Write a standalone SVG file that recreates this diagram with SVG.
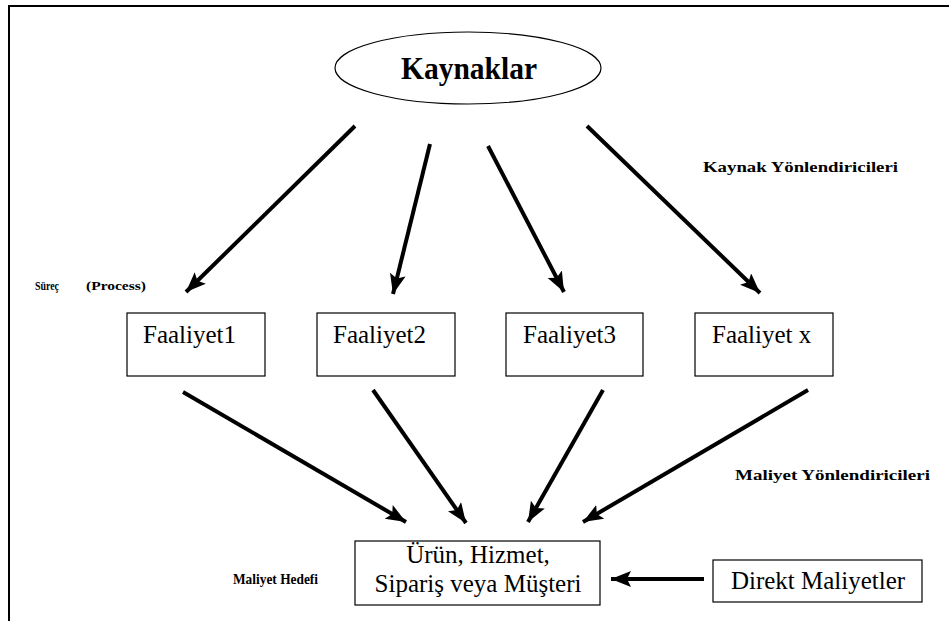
<svg xmlns="http://www.w3.org/2000/svg" width="949" height="621" viewBox="0 0 949 621">
  <style>
    .box { fill: #ffffff; stroke: #000000; stroke-width: 1.2; }
    .frame { fill: none; stroke: #000000; stroke-width: 2; }
    .lbl { font-family: "Liberation Serif", "Times New Roman", serif; font-size: 25px; fill: #000000; }
    .title { font-family: "Liberation Serif", "Times New Roman", serif; font-size: 32px; font-weight: bold; fill: #000000; }
    .note { font-family: "Liberation Serif", "Times New Roman", serif; font-size: 15px; font-weight: bold; fill: #000000; }
    .small { font-family: "Liberation Serif", "Times New Roman", serif; font-size: 12px; font-weight: bold; fill: #000000; }
    .arrow { fill: none; stroke: #000000; stroke-width: 4; marker-end: url(#head); }
  </style>
  <defs>
    <marker id="head" markerUnits="userSpaceOnUse" markerWidth="22" markerHeight="18" refX="20" refY="8" orient="auto">
      <path d="M0,0 L20,8 L0,16 L4,8 Z" fill="#000000"/>
    </marker>
  </defs>

  <rect width="949" height="621" fill="#ffffff"/>
  <!-- page frame: top and left rules -->
  <path class="frame" d="M9,621 V6 H949"/>

  <!-- free labels -->
  <text class="small" x="35" y="290" textLength="24" lengthAdjust="spacingAndGlyphs">Süreç</text>
  <text class="small" x="86" y="290" textLength="60" lengthAdjust="spacingAndGlyphs">(Process)</text>
  <text class="note" x="703" y="172" textLength="195" lengthAdjust="spacingAndGlyphs">Kaynak Yönlendiricileri</text>
  <text class="note" x="735" y="480" textLength="195" lengthAdjust="spacingAndGlyphs">Maliyet Yönlendiricileri</text>
  <text class="note" x="233" y="584" textLength="85" lengthAdjust="spacingAndGlyphs">Maliyet Hedefi</text>

  <g id="connectors">
    <line class="arrow" x1="355" y1="126" x2="186" y2="292"/>
    <line class="arrow" x1="430" y1="144" x2="393" y2="294"/>
    <line class="arrow" x1="488" y1="146" x2="564" y2="292"/>
    <line class="arrow" x1="587" y1="126" x2="760" y2="293"/>
    <line class="arrow" x1="183" y1="392" x2="406" y2="522"/>
    <line class="arrow" x1="373" y1="390" x2="466" y2="523"/>
    <line class="arrow" x1="603" y1="390" x2="528" y2="522"/>
    <line class="arrow" x1="808" y1="390" x2="583" y2="522"/>
    <line class="arrow" x1="704" y1="579" x2="611" y2="579"/>
  </g>

  <g id="kaynaklar">
    <ellipse cx="468" cy="68" rx="133" ry="36" fill="#ffffff" stroke="#000000" stroke-width="1.2"/>
    <text class="title" x="469" y="79" text-anchor="middle" textLength="136" lengthAdjust="spacingAndGlyphs">Kaynaklar</text>
  </g>

  <g id="faaliyet1">
    <rect class="box" x="127" y="313" width="138" height="63"/>
    <text class="lbl" x="143" y="343">Faaliyet1</text>
  </g>
  <g id="faaliyet2">
    <rect class="box" x="317" y="313" width="138" height="63"/>
    <text class="lbl" x="333" y="343">Faaliyet2</text>
  </g>
  <g id="faaliyet3">
    <rect class="box" x="506" y="313" width="137" height="63"/>
    <text class="lbl" x="523" y="343">Faaliyet3</text>
  </g>
  <g id="faaliyetx">
    <rect class="box" x="695" y="313" width="138" height="63"/>
    <text class="lbl" x="712" y="343">Faaliyet x</text>
  </g>

  <g id="maliyet-hedefi">
    <rect class="box" x="355" y="541" width="245" height="64"/>
    <text class="lbl" x="478" y="563" text-anchor="middle">Ürün, Hizmet,</text>
    <text class="lbl" x="478" y="592" text-anchor="middle">Sipariş veya Müşteri</text>
  </g>

  <g id="direkt-maliyetler">
    <rect class="box" x="713" y="560" width="209" height="42"/>
    <text class="lbl" x="818" y="589" text-anchor="middle">Direkt Maliyetler</text>
  </g>
</svg>
